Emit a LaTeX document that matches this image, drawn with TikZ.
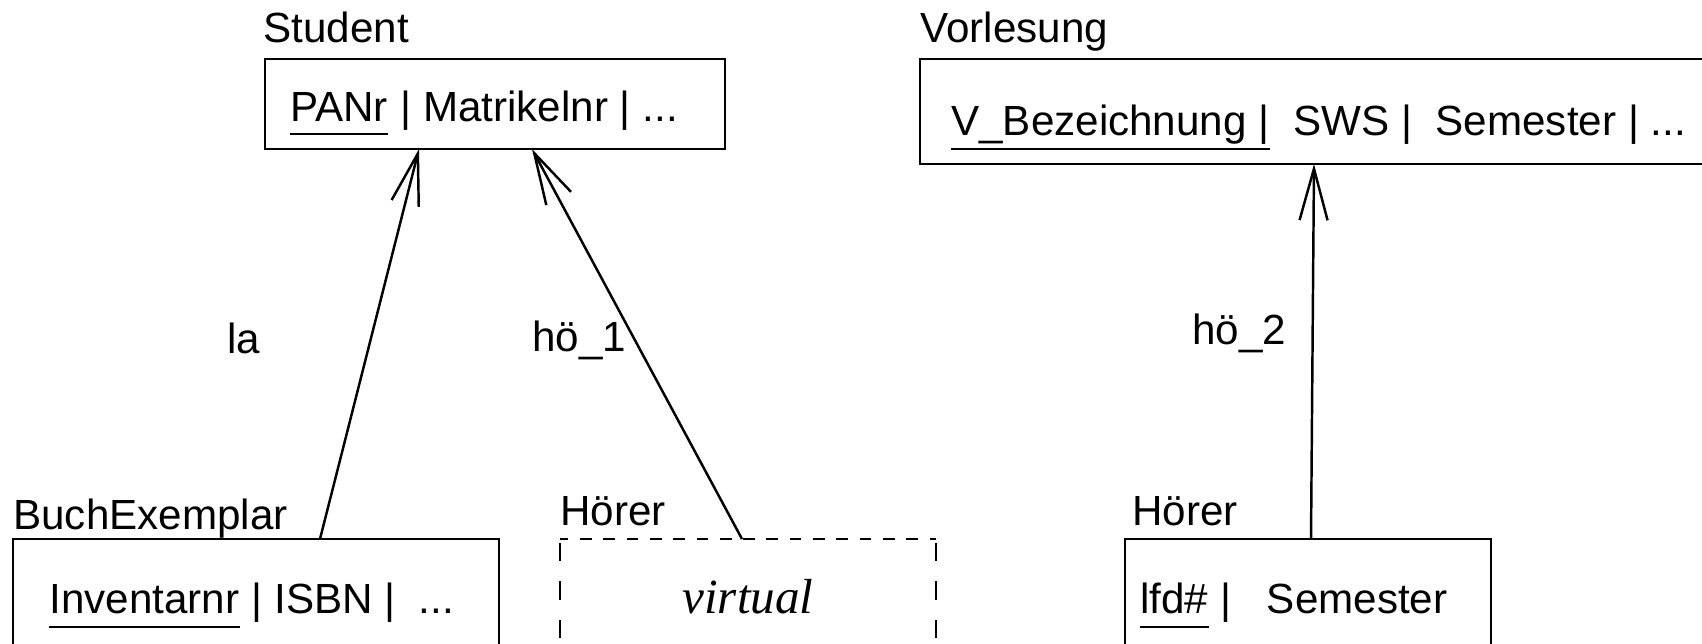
\documentclass[tikz,border=0pt]{standalone}
\usepackage{fontspec}
\setmainfont{Liberation Sans}
\newfontfamily\virtfont{Liberation Serif}
\usetikzlibrary{arrows.meta}
\begin{document}
\begin{tikzpicture}[font=\fontsize{24}{28}\selectfont,
	relbox/.style={draw,line width=0.7pt,anchor=north west,outer sep=0pt,minimum height=3cm},
	txt/.style={anchor=base west,inner sep=0pt},
	uline/.style={line width=1.6pt},
	link/.style={line width=1.4pt,-{Straight Barb[length=1.03cm,width=0.56cm]}}]
		\useasboundingbox (0,0) rectangle (34.04,-12.88);
		\clip (0,0) rectangle (34.04,-12.88);
		% Student
		\node[txt] (lstudent) at (5.26,-0.86) {Student};
		\node[relbox,minimum width=9.2cm,minimum height=1.8cm] (student) at (5.30,-1.18) {};
		\node[txt] (panr) at (5.80,-2.44) {PANr};
		\node[txt] (studrest) at (panr.base east) {\ | Matrikelnr | ...};
		\draw[uline] ([yshift=-0.24cm]panr.base west) -- ([yshift=-0.24cm]panr.base east);
		% Vorlesung
		\node[txt] (lvorl) at (18.40,-0.86) {Vorlesung};
		\node[relbox,minimum width=17cm,minimum height=2.1cm] (vorl) at (18.40,-1.18) {};
		\node[txt] (vbez) at (19.02,-2.72) {V\_Bezeichnung |};
		\node[txt] (vorlrest) at (vbez.base east) {\ \ SWS |\ \ Semester | ...};
		\draw[uline] ([yshift=-0.26cm]vbez.base west) -- ([yshift=-0.26cm]vbez.base east);
		% BuchExemplar
		\node[txt] (lbuch) at (0.26,-10.58) {BuchExemplar};
		\node[relbox,minimum width=9.72cm] (buch) at (0.26,-10.78) {};
		\node[txt] (invnr) at (0.98,-12.26) {Inventarnr};
		\node[txt] (buchrest) at (invnr.base east) {\ | ISBN |\ \ ...};
		\draw[uline] ([yshift=-0.28cm]invnr.base west) -- ([yshift=-0.28cm]invnr.base east);
		% Hoerer (virtuell)
		\node[txt] (lvirt) at (11.2,-10.5) {Hörer};
		\node[relbox,draw=none,minimum width=7.52cm] (virt) at (11.2,-10.78) {};
		\draw[line width=0.7pt,dash pattern=on 0.234cm off 0.232cm,dash phase=0.066cm] (virt.north west) -- (virt.north east);
		\draw[line width=0.7pt,dash pattern=on 0.37cm off 0.40cm,dash phase=0.70cm] (virt.north west) -- (virt.south west);
		\draw[line width=0.7pt,dash pattern=on 0.37cm off 0.40cm,dash phase=0.70cm] (virt.north east) -- (virt.south east);
		\node[txt,font=\fontsize{28}{32}\selectfont\virtfont\itshape] (virtual) at (13.64,-12.26) {virtual};
		% Hoerer
		\node[txt] (lhoerer) at (22.64,-10.5) {Hörer};
		\node[relbox,minimum width=7.32cm] (hoerer) at (22.5,-10.78) {};
		\node[txt] (lfd) at (22.8,-12.26) {lfd\#};
		\node[txt] (hoererrest) at (lfd.base east) {\ |\ \ \ Semester};
		\draw[uline] ([yshift=-0.28cm]lfd.base west) -- ([yshift=-0.28cm]lfd.base east);
		% Beziehungen
		\draw[link] ([xshift=6.14cm]buch.north west) -- ([xshift=3.08cm]student.south west);
		\node[txt] (la) at (4.54,-7.06) {la};
		\draw[link] ([xshift=3.64cm]virt.north west) -- ([xshift=5.34cm]student.south west);
		\node[txt] (hoe1) at (10.64,-7.02) {hö\_1};
		\draw[link] ([xshift=3.72cm]hoerer.north west) -- ([xshift=7.88cm]vorl.south west);
		\node[txt] (hoe2) at (23.84,-6.88) {hö\_2};
\end{tikzpicture}
\end{document}
